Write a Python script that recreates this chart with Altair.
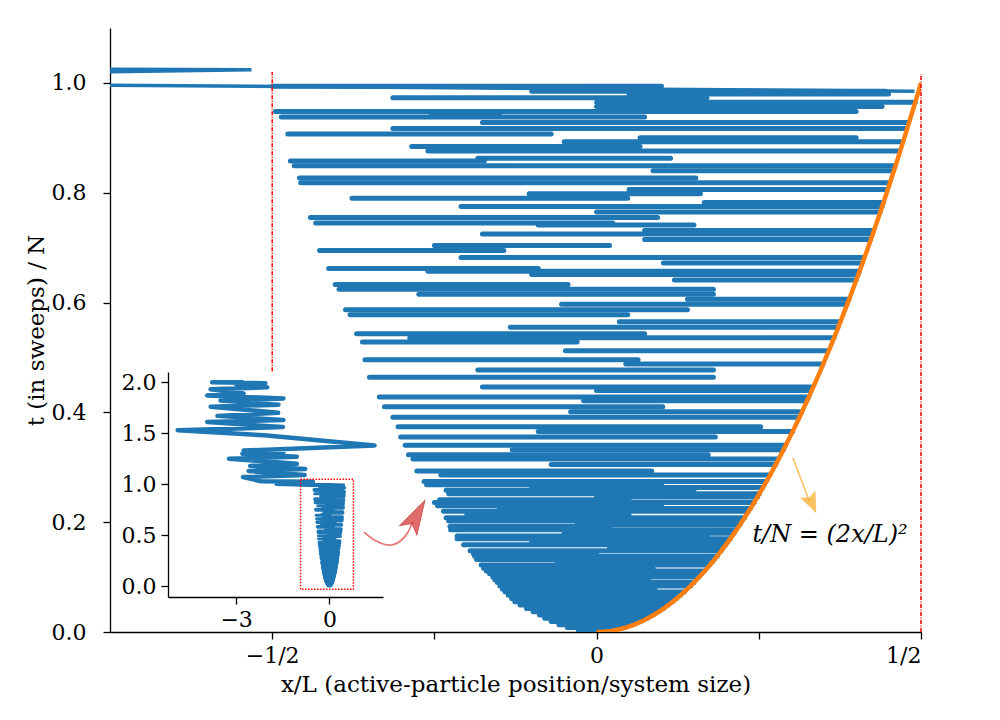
import altair as alt
import numpy as np
import pandas as pd

BLUE = "#1f77b4"
ORANGE = "#ff7f0e"
SERIF = "DejaVu Serif"

# Horizontal sweeps of the active particle: time t/N with the leftmost and
# rightmost position x/L reached during the sweep.
BAR_T = [
    0.994, 0.985, 0.980, 0.973, 0.965, 0.957, 0.948, 0.943, 0.938, 0.928,
    0.917, 0.907, 0.900, 0.893, 0.884, 0.876, 0.863, 0.858, 0.849, 0.840,
    0.827, 0.818, 0.806, 0.798, 0.790, 0.782, 0.775, 0.765, 0.755, 0.745,
    0.741, 0.731, 0.725, 0.715, 0.704, 0.695, 0.682, 0.672, 0.662, 0.657,
    0.651, 0.641, 0.633, 0.624, 0.615, 0.606, 0.597, 0.587, 0.578, 0.565,
    0.555, 0.543, 0.536, 0.528, 0.512, 0.496, 0.488, 0.477, 0.464, 0.446,
    0.440, 0.428, 0.421, 0.410, 0.401, 0.391, 0.374, 0.365, 0.355, 0.340,
    0.332, 0.323, 0.315, 0.305, 0.293, 0.286, 0.274, 0.268, 0.263, 0.258,
    0.252, 0.246, 0.241, 0.236, 0.230, 0.225, 0.220, 0.214, 0.208, 0.202,
    0.196, 0.192, 0.186, 0.180, 0.175, 0.170, 0.164, 0.159, 0.153, 0.148,
    0.143, 0.138, 0.132, 0.127, 0.122, 0.116, 0.111, 0.106, 0.100, 0.095,
    0.090, 0.084, 0.078, 0.073, 0.067, 0.061, 0.055, 0.049, 0.043, 0.037,
    0.031, 0.025, 0.019, 0.013, 0.008, 0.003,
]
BAR_XL = [
    -0.500, -0.100, 0.050, -0.314, 0.000, 0.000, -0.495, -0.255, -0.486, -0.176,
    -0.314, -0.476, 0.067, -0.050, -0.285, -0.260, -0.183, -0.472, -0.466, 0.087,
    -0.458, -0.456, 0.050, -0.104, -0.377, 0.166, -0.209, 0.000, -0.441, -0.433,
    -0.090, 0.074, -0.176, 0.074, -0.250, -0.427, -0.209, 0.103, -0.413, -0.260,
    -0.100, 0.120, -0.403, -0.397, -0.274, 0.140, -0.054, -0.387, -0.380, 0.035,
    -0.133, -0.370, -0.288, -0.361, -0.048, -0.357, 0.045, -0.183, -0.350, -0.176,
    0.000, -0.335, -0.020, -0.327, -0.040, -0.314, -0.306, -0.090, -0.302, -0.295,
    -0.130, -0.290, -0.283, -0.070, -0.277, -0.240, -0.266, -0.262, -0.100, -0.232,
    -0.228, 0.000, -0.242, -0.250, -0.245, -0.150, -0.236, -0.200, -0.232, -0.228,
    -0.030, -0.226, -0.225, -0.050, -0.215, -0.215, -0.100, -0.205, 0.020, -0.195,
    -0.190, -0.188, -0.185, -0.060, -0.178, -0.174, -0.170, -0.165, -0.160, -0.157,
    -0.153, -0.149, -0.145, -0.141, -0.136, -0.131, -0.126, -0.118, -0.108, -0.098,
    -0.088, -0.080, -0.070, -0.058, -0.045, -0.028,
]
BAR_XR = [
    0.100, 0.446, 0.450, 0.170, 0.491, 0.440, 0.400, -0.150, 0.074, 0.481,
    0.478, -0.070, 0.400, 0.472, 0.067, 0.466, 0.114, -0.173, 0.460, 0.457,
    0.153, 0.451, 0.448, 0.160, 0.048, 0.442, 0.440, 0.437, 0.094, 0.025,
    0.150, 0.427, 0.425, 0.422, 0.020, -0.143, 0.412, 0.409, -0.090, 0.405,
    0.403, 0.400, -0.044, 0.180, 0.180, 0.389, 0.386, 0.140, 0.048, 0.375,
    0.372, 0.074, 0.366, -0.030, 0.356, 0.064, 0.349, 0.180, 0.180, 0.333,
    0.331, 0.327, 0.324, 0.102, 0.316, 0.312, 0.253, 0.302, 0.183, 0.291,
    0.288, 0.172, 0.280, 0.276, 0.085, 0.267, 0.261, 0.100, 0.256, 0.150,
    0.251, 0.248, 0.050, 0.243, 0.100, 0.237, 0.234, 0.050, 0.228, 0.224,
    0.221, 0.020, 0.215, 0.212, 0.170, 0.206, 0.202, 0.199, 0.195, 0.192,
    0.000, 0.186, 0.181, 0.178, 0.174, 0.087, 0.166, 0.162, 0.158, 0.080,
    0.150, 0.145, 0.090, 0.135, 0.129, 0.123, 0.117, 0.110, 0.103, 0.095,
    0.087, 0.078, 0.068, 0.056, 0.044, 0.026,
]

# Trajectory once the front has crossed the system (t/N > 1).
WALK_X = [0.49, -1.70, -0.532, -2.20, -2.78, -0.80, -2.60, -0.78, -2.55, -1.05,
          -3.23, -1.05, -2.80, -1.48, -2.76, 1.45, -2.10, -4.88, -1.50, -3.93,
          -1.48, -3.60, -1.65, -3.82, -1.64, -3.50, -1.48, -3.93, -2.76, -3.82,
          -2.00, -3.00, -2.06, -3.77, -2.76]
WALK_T = [0.985, 1.004, 1.024, 1.030, 1.07, 1.09, 1.13, 1.15, 1.18, 1.20,
          1.25, 1.27, 1.30, 1.31, 1.33, 1.38, 1.48, 1.53, 1.56, 1.61,
          1.63, 1.67, 1.70, 1.76, 1.78, 1.82, 1.84, 1.87, 1.89, 1.93,
          1.95, 1.98, 1.99, 2.00, 2.00]

# Annotation geometry, in data coordinates of the main panel.
RED_ARROW_X = [-0.3586, -0.3405, -0.3190, -0.3020, -0.2912, -0.2830]
RED_ARROW_T = [0.1819, 0.1661, 0.1582, 0.1661, 0.1807, 0.2013]
RED_HEAD = {"x": -0.2774, "t": 0.2124, "angle": 29}
ORANGE_ARROW_X = [0.3025, 0.3282]
ORANGE_ARROW_T = [0.3170, 0.2378]
ORANGE_HEAD = {"x": 0.3320, "t": 0.2339, "angle": 156}
LABEL = {"x": 0.3598, "t": 0.177, "text": "t/N = (2x/L)²"}
EDGES = {"x": [-0.5, 0.5], "lo": [0.475, 0.0], "hi": [1.02, 1.016]}

# Region of the inset that the main panel enlarges.
BOX = {"x": -0.93, "x2": 0.77, "t": -0.03, "t2": 1.05}

MAIN_X = [-0.75, 0.5]
MAIN_T = [0.0, 1.1]
INSET_X = [-5.19, 1.72]
INSET_T = [-0.105, 2.1]

PLOT_W, PLOT_H = 811, 604
INSET_XR = [58, 273]
INSET_YR = [569, 344]

HEAD_SHAPE = "M0,-1L0.57,1L0,0.55L-0.57,1Z"
HEAD_SHAPE_WIDE = "M0,-1L0.8,1L0,0.6L-0.8,1Z"

bars = pd.DataFrame({"t": BAR_T, "xl": BAR_XL, "xr": BAR_XR})
walk = pd.DataFrame({"x": WALK_X, "t": WALK_T, "i": range(len(WALK_X))})
curve_x = np.linspace(0.0, 0.5, 201)
front = pd.DataFrame({"x": curve_x, "t": (2 * curve_x) ** 2})
edges = pd.DataFrame(EDGES)
red_arrow = pd.DataFrame({"x": RED_ARROW_X, "t": RED_ARROW_T})
orange_arrow = pd.DataFrame({"x": ORANGE_ARROW_X, "t": ORANGE_ARROW_T})
red_head = pd.DataFrame([RED_HEAD])
orange_head = pd.DataFrame([ORANGE_HEAD])
label = pd.DataFrame([LABEL])
box = pd.DataFrame([BOX])

TICK_FONT = 22

# ---- main panel -------------------------------------------------------------
xs = alt.Scale(domain=MAIN_X, nice=False, zero=False)
ys = alt.Scale(domain=MAIN_T, nice=False, zero=False)
x_axis = alt.Axis(
    values=[-0.5, -0.25, 0, 0.25, 0.5],
    labelExpr="datum.value == -0.5 ? '−1/2' : datum.value == 0 ? '0' : datum.value == 0.5 ? '1/2' : ''",
    title="x/L (active-particle position/system size)",
    labelFontSize=TICK_FONT, labelPadding=6, titlePadding=7,
)
y_axis = alt.Axis(
    values=[0, 0.2, 0.4, 0.6, 0.8, 1.0], format=".1f",
    title="t (in sweeps) / N", labelFontSize=TICK_FONT,
    labelPadding=17, titlePadding=3,
)


def mx(field):
    return alt.X(field, type="quantitative", scale=xs, axis=x_axis)


def my(field):
    return alt.Y(field, type="quantitative", scale=ys, axis=y_axis)


main_bars = alt.Chart(bars).mark_rule(
    color=BLUE, strokeWidth=5, strokeCap="round", clip=True
).encode(x=mx("xl"), x2="xr", y=my("t"))

main_walk = alt.Chart(walk).mark_line(
    color=BLUE, strokeWidth=3.5, clip=True
).encode(x=mx("x"), y=my("t"), order="i:Q")

main_front = alt.Chart(front).mark_line(
    color=ORANGE, strokeWidth=4.5, clip=True
).encode(x=mx("x"), y=my("t"))

main_edges = alt.Chart(edges).mark_rule(
    color="#ff0000", strokeWidth=1.5, strokeDash=[4, 1.5, 1, 1.5]
).encode(x=mx("x"), y=my("lo"), y2="hi")

red_curve = alt.Chart(red_arrow).mark_line(
    color="#e05a5a", strokeWidth=1.8, opacity=0.8, interpolate="monotone"
).encode(x=mx("x"), y=my("t"))

red_tip = alt.Chart(red_head).mark_point(
    shape=HEAD_SHAPE, size=1156, filled=True, color="#d93a3a", opacity=0.75,
    stroke="#c02020", strokeWidth=1,
).encode(x=mx("x"), y=my("t"), angle=alt.Angle("angle:Q", scale=None))

orange_line = alt.Chart(orange_arrow).mark_line(
    color="#f7b13c", strokeWidth=1.6, opacity=0.8
).encode(x=mx("x"), y=my("t"))

orange_tip = alt.Chart(orange_head).mark_point(
    shape=HEAD_SHAPE_WIDE, size=441, filled=True, color="#f7ae2f", opacity=0.75,
).encode(x=mx("x"), y=my("t"), angle=alt.Angle("angle:Q", scale=None))

front_label = alt.Chart(label).mark_text(
    font=SERIF, fontSize=24, fontStyle="italic", color="black",
    align="center", baseline="middle",
).encode(x=mx("x"), y=my("t"), text="text:N")

main = alt.layer(
    main_bars, main_walk, main_front, main_edges,
    red_curve, red_tip, orange_line, orange_tip, front_label,
)

# ---- inset: the whole run ---------------------------------------------------
xi = alt.Scale(domain=INSET_X, range=INSET_XR, nice=False, zero=False)
yi = alt.Scale(domain=INSET_T, range=INSET_YR, nice=False, zero=False)
xi_axis = alt.Axis(
    orient="bottom", offset=-(PLOT_H - INSET_YR[0]), values=[-3, 0],
    labelExpr="datum.value == -3 ? '−3' : '0'", title=None,
    labelFontSize=TICK_FONT, labelPadding=5,
)
yi_axis = alt.Axis(
    orient="left", offset=-INSET_XR[0], values=[0, 0.5, 1.0, 1.5, 2.0],
    format=".1f", title=None, labelFontSize=TICK_FONT, labelPadding=5,
)


def ix(field):
    return alt.X(field, type="quantitative", scale=xi, axis=xi_axis)


def iy(field):
    return alt.Y(field, type="quantitative", scale=yi, axis=yi_axis)


inset_bars = alt.Chart(bars).mark_rule(
    color=BLUE, strokeWidth=3, strokeCap="round"
).encode(x=ix("xl"), x2="xr", y=iy("t"))

inset_walk = alt.Chart(walk).mark_line(
    color=BLUE, strokeWidth=4.5, strokeJoin="round"
).encode(x=ix("x"), y=iy("t"), order="i:Q")

inset_box = alt.Chart(box).mark_rect(
    fillOpacity=0, stroke="#ff0000", strokeWidth=1.5, strokeDash=[1.5, 1.5]
).encode(x=ix("x"), x2="x2", y=iy("t"), y2="t2")

inset = alt.layer(inset_bars, inset_walk, inset_box)

chart = (
    alt.layer(main, inset)
    .resolve_scale(x="independent", y="independent")
    .resolve_axis(x="independent", y="independent")
    .properties(
        width=PLOT_W, height=PLOT_H, autosize="none",
        padding={"left": 110, "top": 28, "right": 79, "bottom": 88},
        background="white",
    )
    .configure_view(stroke=None)
    .configure_axis(
        labelFont=SERIF, labelFontSize=TICK_FONT, labelColor="black",
        titleFont=SERIF, titleFontSize=23, titleFontWeight="normal",
        titleColor="black", domainColor="black", domainWidth=1.3,
        tickColor="black", tickWidth=1.3, tickSize=7, grid=False,
    )
)

chart.save("out.html", embed_options={"renderer": "svg", "actions": False})
